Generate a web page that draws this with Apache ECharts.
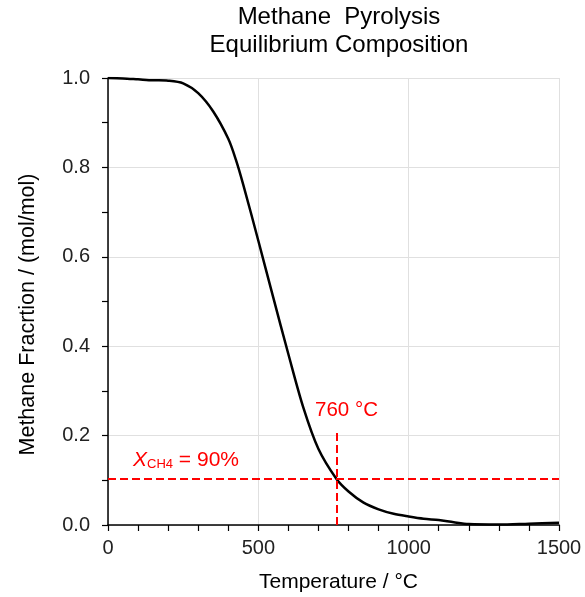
<!DOCTYPE html>
<html>
<head>
<meta charset="utf-8">
<script src="https://cdn.jsdelivr.net/npm/echarts@6/dist/echarts.min.js"></script>
<style>
  html, body { margin: 0; padding: 0; background: #fff; }
  #chart { width: 585px; height: 597px; }
</style>
</head>
<body>
<div id="chart"></div>
<script>
// temperature (°C) and methane mole fraction
var temps = [0, 50, 100, 150, 200, 250, 300, 350, 400, 425, 450, 500, 550, 600, 650, 700, 760, 800, 850, 900, 950, 1000, 1050, 1100, 1150, 1200, 1300, 1400, 1500];
var fraction = [1.000, 0.999, 0.997, 0.995, 0.994, 0.988, 0.966, 0.925, 0.864, 0.818, 0.761, 0.636, 0.508, 0.382, 0.262, 0.170, 0.103, 0.075, 0.050, 0.035, 0.025, 0.019, 0.014, 0.011, 0.006, 0.002, 0.001, 0.003, 0.005];
var xTicks = [0, 500, 1000, 1500];
var yTicks = [0, 0.2, 0.4, 0.6, 0.8, 1.0];
// 90 % conversion marker
var markTemp = 760;
var markFrac = 0.103;
var markTop = 0.21;

var chart = echarts.init(document.getElementById("chart"));

var curve = [];
for (var i = 0; i < temps.length; i++) {
  curve.push([temps[i], fraction[i]]);
}

var font = "Liberation Sans";
var red = "#ff0000";

chart.setOption({
  animation: false,
  textStyle: { fontFamily: font },
  title: {
    text: "Methane  Pyrolysis\nEquilibrium Composition",
    left: 339,
    top: 3,
    padding: 0,
    textAlign: "center",
    textStyle: { fontFamily: font, fontSize: 24, fontWeight: "normal", color: "#000", lineHeight: 28 }
  },
  grid: { left: 108, right: 26, top: 78, bottom: 72, outerBoundsMode: "none" },
  xAxis: {
    type: "value",
    min: xTicks[0],
    max: xTicks[xTicks.length - 1],
    interval: xTicks[1] - xTicks[0],
    name: "Temperature / °C",
    nameLocation: "middle",
    nameGap: 47,
    nameTextStyle: { fontFamily: font, fontSize: 21, color: "#000", padding: [0, 0, 0, 10] },
    axisLine: { show: true, lineStyle: { color: "#000", width: 1.5 } },
    axisTick: { show: true, length: 6, lineStyle: { color: "#000", width: 1.2 } },
    minorTick: { show: true, splitNumber: 5, length: 6, lineStyle: { color: "#000", width: 1.2 } },
    axisLabel: {
      margin: 13, fontSize: 20, color: "#222", fontFamily: font,
      formatter: function (v) { return String(v); }
    },
    splitLine: { show: true, lineStyle: { color: "#e0e0e0", width: 1 } }
  },
  yAxis: {
    type: "value",
    min: yTicks[0],
    max: yTicks[yTicks.length - 1],
    interval: yTicks[1] - yTicks[0],
    name: "Methane Fracrtion / (mol/mol)",
    nameLocation: "middle",
    nameGap: 69,
    nameTextStyle: { fontFamily: font, fontSize: 21.5, color: "#000", padding: [0, 26, 0, 0] },
    axisLine: { show: true, lineStyle: { color: "#000", width: 1.5 } },
    axisTick: { show: true, length: 6, lineStyle: { color: "#000", width: 1.2 } },
    minorTick: { show: true, splitNumber: 2, length: 6, lineStyle: { color: "#000", width: 1.2 } },
    axisLabel: {
      margin: 18, fontSize: 20, color: "#222", fontFamily: font,
      formatter: function (v) { return v.toFixed(1); }
    },
    splitLine: { show: true, lineStyle: { color: "#e0e0e0", width: 1 } }
  },
  series: [
    {
      type: "line",
      data: curve,
      smooth: 0.3,
      showSymbol: false,
      lineStyle: { color: "#000", width: 2.5 },
      z: 3,
      markLine: {
        silent: true,
        symbol: ["none", "none"],
        lineStyle: { color: red, width: 2, type: [8, 4] },
        data: [
          [
            {
              coord: [xTicks[0], markFrac],
              label: {
                show: true,
                position: "insideStartTop",
                distance: [25, 8],
                formatter: "{x|X}{sub|CH4}{n| = 90%}",
                rich: {
                  x: { fontFamily: font, fontSize: 21, fontStyle: "italic", color: red },
                  sub: { fontFamily: font, fontSize: 13, color: red, verticalAlign: "bottom", padding: [8, 0, 0, 0] },
                  n: { fontFamily: font, fontSize: 21, color: red }
                }
              }
            },
            { coord: [xTicks[xTicks.length - 1], markFrac] }
          ],
          [
            {
              coord: [markTemp, 0],
              label: {
                show: true,
                position: "end",
                distance: 10,
                padding: [0, 0, 0, 20],
                formatter: markTemp + " °C",
                fontFamily: font,
                fontSize: 20.5,
                color: red
              }
            },
            { coord: [markTemp, markTop] }
          ]
        ]
      }
    }
  ]
});
</script>
</body>
</html>
